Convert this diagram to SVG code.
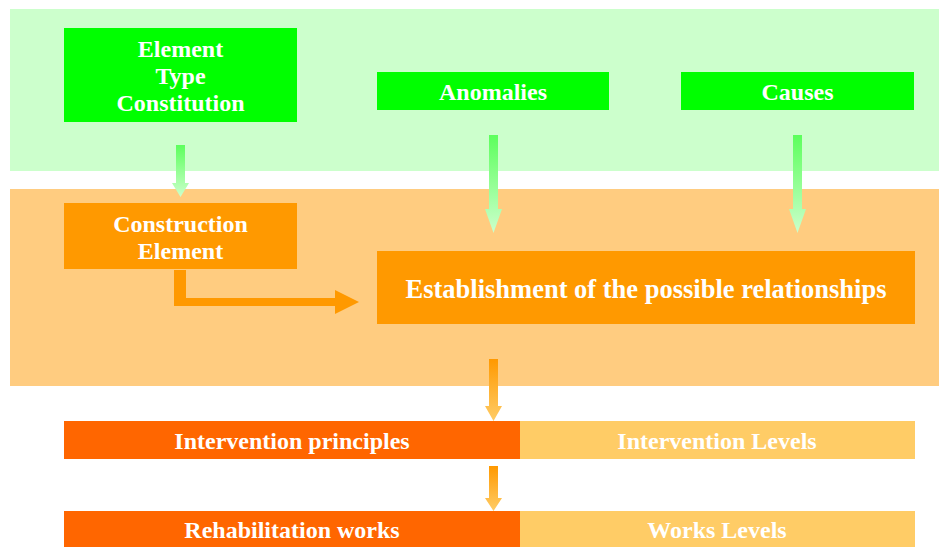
<svg xmlns="http://www.w3.org/2000/svg" width="939" height="547" viewBox="0 0 939 547">
<style>
text{font-family:"Liberation Serif","Times New Roman",serif;font-weight:bold;fill:#fff;text-anchor:middle;font-size:24px}
.big{font-size:26.5px}
.gbox{fill:#00FF00}
.obox{fill:#FF9900}
.dark{fill:#FF6600}
.light{fill:#FFCC66}
</style>
<defs>
<linearGradient id="gg" x1="0" y1="0" x2="0" y2="1">
<stop offset="0" stop-color="#5CFF5C"/>
<stop offset="1" stop-color="#CCFFCC"/>
</linearGradient>
<linearGradient id="og" x1="0" y1="0" x2="0" y2="1">
<stop offset="0" stop-color="#FF9900"/>
<stop offset="1" stop-color="#FFCC66"/>
</linearGradient>
</defs>
<g id="panels">
<rect x="10" y="9" width="929" height="162" fill="#CCFFCC"/>
<rect x="10" y="189" width="929" height="197" fill="#FFCC80"/>
</g>
<g id="element-type">
<rect class="gbox" x="64" y="28" width="233" height="94"/>
<text x="180.5" y="57">Element</text>
<text x="180.5" y="84">Type</text>
<text x="180.5" y="111">Constitution</text>
</g>
<g id="anomalies">
<rect class="gbox" x="377" y="72" width="232" height="38"/>
<text x="493" y="100">Anomalies</text>
</g>
<g id="causes">
<rect class="gbox" x="681" y="72" width="233" height="38"/>
<text x="797.5" y="100">Causes</text>
</g>
<g id="construction-element">
<rect class="obox" x="64" y="203" width="233" height="66"/>
<text x="180.5" y="232">Construction</text>
<text x="180.5" y="259">Element</text>
</g>
<g id="establishment">
<rect class="obox" x="377" y="251" width="538" height="73"/>
<text class="big" x="646" y="298">Establishment of the possible relationships</text>
</g>
<g id="intervention-principles">
<rect class="dark" x="64" y="421" width="456" height="38"/>
<text x="292" y="449">Intervention principles</text>
</g>
<g id="intervention-levels">
<rect class="light" x="520" y="421" width="395" height="38"/>
<text x="717" y="449">Intervention Levels</text>
</g>
<g id="rehabilitation-works">
<rect class="dark" x="64" y="511" width="456" height="36"/>
<text x="292" y="538">Rehabilitation works</text>
</g>
<g id="works-levels">
<rect class="light" x="520" y="511" width="395" height="36"/>
<text x="717" y="538">Works Levels</text>
</g>
<g id="connectors">
<polygon fill="url(#gg)" points="176,145 185,145 185,183 189,183 180.5,197 172,183 176,183"/>
<polygon fill="url(#gg)" points="489,135 498,135 498,209 502,209 493.5,233 485,209 489,209"/>
<polygon fill="url(#gg)" points="793,135 802,135 802,209 806,209 797.5,233 789,209 793,209"/>
<polygon fill="#FF9900" points="174,270 186,270 186,298 335,298 335,290 359,302 335,314 335,306 174,306"/>
<polygon fill="url(#og)" points="489,359 498,359 498,406 502,406 493.5,421 485,406 489,406"/>
<polygon fill="url(#og)" points="489,466 498,466 498,498 502,498 493.5,511 485,498 489,498"/>
</g>
</svg>
